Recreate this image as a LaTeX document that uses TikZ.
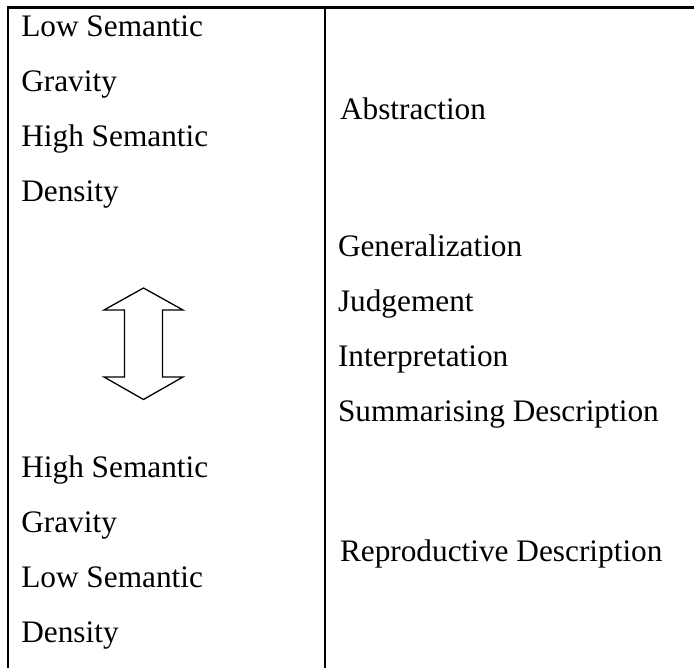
\documentclass[tikz,border=0pt]{standalone}
\usepackage{fontspec}
\setmainfont{Liberation Serif}
\begin{document}
\begin{tikzpicture}[x=1pt,y=-1pt,
  rule/.style={line width=2.3pt,line cap=rect},
  celltext/.style={anchor=base west,inner sep=0pt,outer sep=0pt,
    font=\fontsize{31.3}{31.3}\selectfont},
  bigarrow/.style={line width=1.3pt,line join=miter,fill=white}]
  \useasboundingbox (0,0) rectangle (694,668);

  % table rules: top edge, left edge and column divider
  \coordinate (tl) at (8,7.5);
  \coordinate (tr) at (700,7.5);
  \coordinate (bl) at (8,672);
  \coordinate (tm) at (325,7.5);
  \coordinate (bm) at (325,672);
  \draw[rule] (tr) -- (tl) -- (bl);
  \draw[rule] (tm) -- (bm);

  % left column
  \node[celltext] (l1) at (21.3,36.7)  {Low Semantic};
  \node[celltext] (l2) at (21.3,91.7)  {Gravity};
  \node[celltext] (l3) at (21.3,146.7) {High Semantic};
  \node[celltext] (l4) at (21.3,201.7) {Density};
  \node[celltext] (l5) at (21.3,477.7) {High Semantic};
  \node[celltext] (l6) at (21.3,532.7) {Gravity};
  \node[celltext] (l7) at (21.3,587.7) {Low Semantic};
  \node[celltext] (l8) at (21.3,642.7) {Density};

  % double-headed block arrow between the two ends of the scale
  \draw[bigarrow] (143.5,288) -- (183,310) -- (162.5,310) -- (162.5,377)
    -- (183,377) -- (143.5,399.5) -- (104,377) -- (124.5,377)
    -- (124.5,310) -- (104,310) -- cycle;

  % right column
  \node[celltext] (r1) at (340,119.5) {Abstraction};
  \node[celltext] (r2) at (338,256.5) {Generalization};
  \node[celltext] (r3) at (338,311.5) {Judgement};
  \node[celltext] (r4) at (338,366.5) {Interpretation};
  \node[celltext] (r5) at (338,421.5) {Summarising Description};
  \node[celltext] (r6) at (340,561.5) {Reproductive Description};
\end{tikzpicture}
\end{document}
